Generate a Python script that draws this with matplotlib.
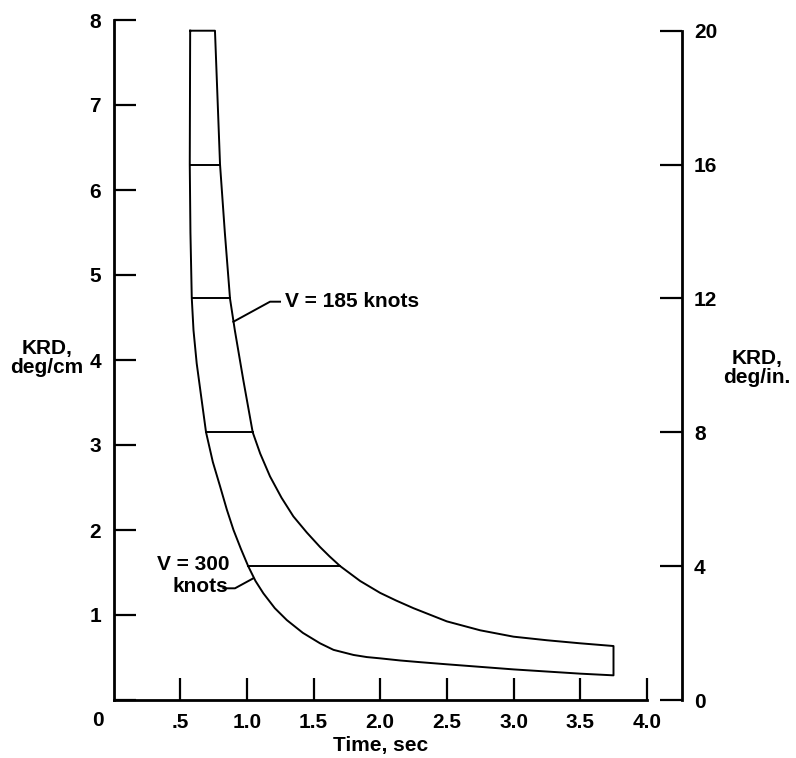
import matplotlib
matplotlib.use("Agg")
import matplotlib.pyplot as plt
import numpy as np

# V = 300 knots curve (time in sec, KRD in deg/cm)
t_300 = [0.575, 0.572, 0.577, 0.587, 0.60, 0.624, 0.655, 0.694, 0.745, 0.80, 0.85,
         0.90, 0.955, 1.01, 1.065, 1.124, 1.21, 1.30, 1.42, 1.549, 1.65, 1.80, 1.90,
         2.0, 2.15, 2.3, 2.5, 2.75, 3.0, 3.25, 3.5, 3.75]
krd_300 = [7.874, 6.30, 5.50, 4.73, 4.35, 3.96, 3.60, 3.15, 2.80, 2.51, 2.24,
           2.00, 1.78, 1.575, 1.40, 1.255, 1.08, 0.94, 0.79, 0.667, 0.59, 0.53, 0.505,
           0.49, 0.465, 0.445, 0.42, 0.39, 0.36, 0.335, 0.31, 0.29]

# V = 185 knots curve
t_185 = [0.761, 0.799, 0.835, 0.874, 0.91, 0.974, 1.044, 1.10, 1.174, 1.26, 1.349,
         1.45, 1.549, 1.62, 1.70, 1.85, 2.0, 2.12, 2.25, 2.5, 2.75, 3.0, 3.25, 3.5, 3.75]
krd_185 = [7.874, 6.30, 5.50, 4.72, 4.35, 3.76, 3.15, 2.90, 2.63, 2.38, 2.16,
           1.97, 1.80, 1.69, 1.575, 1.40, 1.26, 1.17, 1.08, 0.925, 0.82, 0.745, 0.703,
           0.667, 0.635]

rungs_in = [16, 12, 8, 4]   # deg/in. levels of the cross lines
CM_PER_IN = 2.54

x_ticks = [0.5, 1.0, 1.5, 2.0, 2.5, 3.0, 3.5, 4.0]
x_labels = [".5", "1.0", "1.5", "2.0", "2.5", "3.0", "3.5", "4.0"]
left_ticks = [0, 1, 2, 3, 4, 5, 6, 7, 8]
left_labels = ["", "1", "2", "3", "4", "5", "6", "7", "8"]
right_ticks = [0, 4, 8, 12, 16, 20]

plt.rcParams["font.family"] = ["Liberation Sans", "DejaVu Sans"]
plt.rcParams["font.weight"] = "bold"
FS = 15

W, H = 796, 758
fig = plt.figure(figsize=(W / 100, H / 100), dpi=100)
ax = fig.add_axes([113.5 / W, 58 / H, 568 / W, 680 / H])
ax.set_xlim(0, 4.26)
ax.set_ylim(0, 8)

# outline: lower curve, end cap, upper curve back, top cap
ox = np.r_[t_300, t_185[::-1], t_300[0]]
oy = np.r_[krd_300, krd_185[::-1], krd_300[0]]
ax.plot(ox, oy, color="black", lw=1.4, solid_joinstyle="round")

for lvl in rungs_in:
    v = lvl / CM_PER_IN
    t_lo = np.interp(v, krd_300[::-1], t_300[::-1])
    t_hi = np.interp(v, krd_185[::-1], t_185[::-1])
    ax.plot([t_lo, t_hi], [v, v], color="black", lw=1.4)

# spines / ticks
for s in ["top", "right"]:
    ax.spines[s].set_visible(False)
ax.spines["left"].set_bounds(0, 8)
ax.spines["bottom"].set_bounds(0, 4.0)
for s in ["left", "bottom"]:
    ax.spines[s].set_linewidth(2)
ax.set_xticks(x_ticks, x_labels)
ax.set_yticks(left_ticks, left_labels)
ax.tick_params(direction="in", length=16, width=1.6, labelsize=FS, pad=9)

ax2 = ax.twinx()
ax2.set_ylim(0, 8 * CM_PER_IN)
for s in ["top", "left", "bottom"]:
    ax2.spines[s].set_visible(False)
ax2.spines["right"].set_bounds(0, 20)
ax2.spines["right"].set_linewidth(2)
ax2.set_yticks(right_ticks)
ax2.tick_params(direction="in", length=16, width=1.6, labelsize=FS, pad=9)

# labels
fig.text(98 / W, 1 - 721 / H, "0", fontsize=FS, ha="center", va="center")
fig.text(381 / W, 1 - 745 / H, "Time, sec", fontsize=FS, ha="center", va="center")
fig.text(47 / W, 1 - 358 / H, "KRD,\ndeg/cm", fontsize=FS, ha="center", va="center",
         linespacing=1.0)
fig.text(757 / W, 1 - 368 / H, "KRD,\ndeg/in.", fontsize=FS, ha="center", va="center",
         linespacing=1.0)

# annotations
ax.plot([0.899, 1.174, 1.249], [4.45, 4.686, 4.686], color="black", lw=1.4)
ax.text(1.287, 4.686, "V = 185 knots", fontsize=FS, ha="left", va="center")
ax.plot([0.824, 0.911, 1.049], [1.314, 1.314, 1.432], color="black", lw=1.4)
ax.text(0.60, 1.60, "V = 300", fontsize=FS, ha="center", va="center")
ax.text(0.65, 1.33, "knots", fontsize=FS, ha="center", va="center")

fig.savefig("out.png", dpi=100)
